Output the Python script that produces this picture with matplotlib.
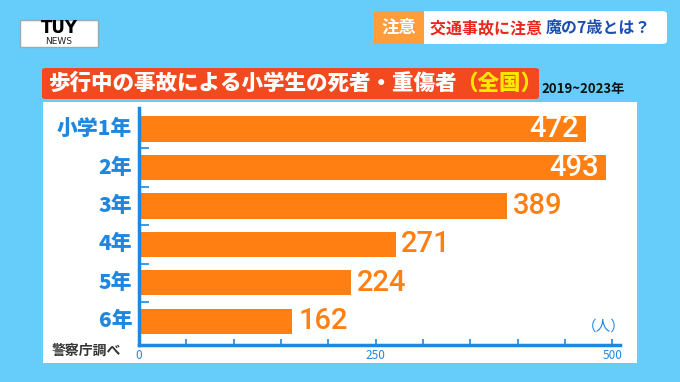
import matplotlib
matplotlib.use("Agg")
from matplotlib import pyplot as plt
from matplotlib.patches import Rectangle, FancyBboxPatch

plt.rcParams["font.family"] = ["Noto Sans CJK JP", "DejaVu Sans"]

grades = ["小学1年", "2年", "3年", "4年", "5年", "6年"]
victims = [472, 493, 389, 271, 224, 162]
x_ticks = [0, 250, 500]
x_minor = [50, 100, 150, 200, 300, 350, 400, 450]

W, H = 680, 382
BG = "#66cdfb"
ORANGE = "#ff7f12"
BLUE = "#1f87e0"

fig = plt.figure(figsize=(W / 100, H / 100), dpi=100, facecolor=BG)


def px_box(x0, y0, x1, y1):
    # pixel coords from top-left -> figure fraction
    return [x0 / W, 1 - y1 / H, (x1 - x0) / W, (y1 - y0) / H]


def fx(x):
    return x / W


def fy(y):
    return 1 - y / H


# white panel
fig.patches.append(Rectangle((fx(43), fy(363)), (637 - 43) / W, (363 - 102) / H,
                             transform=fig.transFigure, facecolor="white",
                             edgecolor="none", zorder=0))

# title banner
fig.patches.append(FancyBboxPatch((fx(42), fy(99)), (539 - 42) / W, (99 - 68) / H,
                                  boxstyle="round,pad=0,rounding_size=0.006",
                                  transform=fig.transFigure, facecolor="#f2491e",
                                  edgecolor="none", zorder=1))
t1 = fig.text(fx(48), fy(83.5), "歩行中の事故による小学生の死者・重傷者",
              color="white", fontsize=15.5, fontweight="black", va="center", ha="left")
fig.canvas.draw()
bb = t1.get_window_extent()
fig.text(bb.x1 / W, fy(83.5), "（全国）", color="#ffe600", fontsize=15.5,
         fontweight="black", va="center", ha="left")
fig.text(fx(541), fy(89), "2019~2023年", color="#111111", fontsize=9.5,
         fontweight="bold", va="center", ha="left")

# logo
fig.patches.append(Rectangle((fx(20), fy(47)), (98 - 20) / W, (47 - 20) / H,
                             transform=fig.transFigure, facecolor="white",
                             edgecolor="#9aa8b0", lw=1, zorder=1))
fig.text(fx(59), fy(28), "TUY", color="black", fontsize=12, fontweight="heavy",
         ha="center", va="center", family=["DejaVu Sans"])
fig.text(fx(59), fy(41.5), "NEWS", color="#222222", fontsize=6.5,
         ha="center", va="center", family=["DejaVu Sans"])

# caption at top right
fig.patches.append(FancyBboxPatch((fx(374), fy(44)), (667 - 374) / W, (44 - 11) / H,
                                  boxstyle="round,pad=0,rounding_size=0.008",
                                  transform=fig.transFigure, facecolor="white",
                                  edgecolor="none", zorder=1))
fig.patches.append(Rectangle((fx(374), fy(44)), (424 - 374) / W, (44 - 11) / H,
                             transform=fig.transFigure, facecolor="#ff9d3a",
                             edgecolor="none", zorder=2))
fig.text(fx(399), fy(28), "注意", color="white", fontsize=12.5, fontweight="bold",
         ha="center", va="center")
c1 = fig.text(fx(430), fy(28), "交通事故に注意 ", color="#e8281e", fontsize=11.5,
              fontweight="bold", ha="left", va="center")
fig.canvas.draw()
bb = c1.get_window_extent()
fig.text(bb.x1 / W, fy(28), "魔の7歳とは？", color="#1a4fb0", fontsize=11.5,
         fontweight="bold", ha="left", va="center")

# chart
ax = fig.add_axes(px_box(139, 108, 620, 345))
ax.set_zorder(5)
ax.set_facecolor("none")
ypos = list(range(len(grades)))
ax.barh(ypos, victims, height=0.66, color=ORANGE, zorder=2)
ax.set_xlim(0, 508)
ax.set_ylim(5.62, -0.55)

for y, v in zip(ypos, victims):
    if v > 450:
        ax.text(v - 7, y, str(v), color="white", fontsize=21, fontweight="medium",
                ha="right", va="center", family=["Roboto"])
    else:
        ax.text(v + 6, y, str(v), color=ORANGE, fontsize=21, fontweight="medium",
                ha="left", va="center", family=["Roboto"])

for s in ["top", "right"]:
    ax.spines[s].set_visible(False)
for s in ["left", "bottom"]:
    ax.spines[s].set_color(BLUE)
    ax.spines[s].set_linewidth(2.5)

ax.set_yticks([y + 0.5 for y in ypos[:-1]])
ax.set_yticklabels([])
ax.tick_params(axis="y", which="major", direction="in", length=7, width=1.2, color=BLUE)
for y, g in zip(ypos, grades):
    ax.text(-0.014, y, g, transform=ax.get_yaxis_transform(), color=BLUE,
            fontsize=15, fontweight="black", ha="right", va="center")

ax.set_xticks(x_ticks)
ax.set_xticks(x_minor, minor=True)
ax.tick_params(axis="x", which="both", direction="in", length=4, width=1.2,
               color=BLUE, labelcolor=BLUE, labelsize=8.5, pad=3)

fig.text(fx(604), fy(327), "（人）", color=BLUE, fontsize=10.5, ha="center", va="center")
fig.text(fx(52), fy(351), "警察庁調べ", color="#333333", fontsize=10,
         fontweight="bold", ha="left", va="center")

fig.savefig("out.png", dpi=100, facecolor=BG)
